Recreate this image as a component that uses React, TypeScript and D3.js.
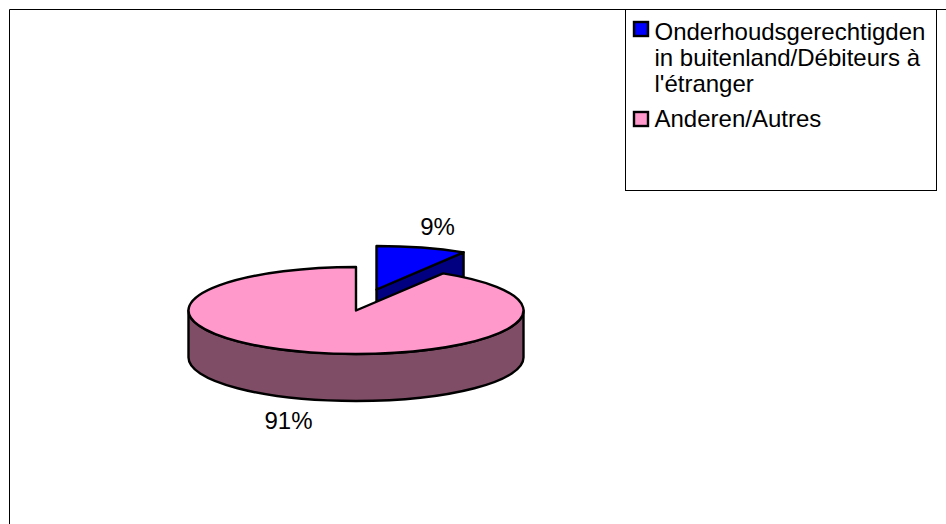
import React from "react";
import * as d3 from "d3";

const categories = ["Onderhoudsgerechtigden in buitenland/Débiteurs à l'étranger", "Anderen/Autres"];
const legendLines = [["Onderhoudsgerechtigden", "in buitenland/Débiteurs à", "l'étranger"], ["Anderen/Autres"]];
const values = [8.7, 91.3];
const topColors = ["#0000ff", "#ff99cc"];
const sideColors = ["#000080", "#804d66"];

const W = 946, H = 524;
const FONT = "'Liberation Sans', Arial, sans-serif";
const cx = 356, cy = 310.5, rx = 167.5, ry = 43.5, depth = 47;
const explode = { dx: 20.5, dy: -21 };

const pie = d3.pie<number>().sort(null);
const arcs = pie(values);
const total = d3.sum(values);
const pct = (v: number) => d3.format(".0f")((v / total) * 100) + "%";
const px = d3.scaleLinear().domain([-1, 1]).range([cx - rx, cx + rx]);
const py = d3.scaleLinear().domain([-1, 1]).range([cy - ry, cy + ry]);
const pt = (a: number) => [px(Math.sin(a)), py(-Math.cos(a))] as const;

function topPath(a0: number, a1: number) {
  const [x0, y0] = pt(a0);
  const [x1, y1] = pt(a1);
  const large = a1 - a0 > Math.PI ? 1 : 0;
  return `M${cx},${cy}L${x0},${y0}A${rx},${ry} 0 ${large} 1 ${x1},${y1}Z`;
}
// Visible rim: the front half of the ellipse, from the right to the left extreme
function frontPath() {
  return `M${cx + rx},${cy}A${rx},${ry} 0 0 1 ${cx - rx},${cy}L${cx - rx},${cy + depth}A${rx},${ry} 0 0 0 ${cx + rx},${cy + depth}Z`;
}
function cutPath(a: number) {
  const [x, y] = pt(a);
  return `M${cx},${cy}L${x},${y}L${x},${y + depth}L${cx},${cy + depth}Z`;
}

export default function App() {
  const blue = arcs[0];
  const pink = arcs[1];
  return (
    <svg width={W} height={H} style={{ position: "absolute", left: 0, top: 0, background: "#fff" }}>
      <path d={`M9.5,${H}V9.5H${W}`} fill="none" stroke="#000" strokeWidth={1} />
      <g transform={`translate(${explode.dx},${explode.dy})`} stroke="#000" strokeWidth={2.4} strokeLinejoin="round">
        <path d={cutPath(blue.endAngle)} fill={sideColors[0]} />
        <path d={topPath(blue.startAngle, blue.endAngle)} fill={topColors[0]} />
      </g>
      <g stroke="#000" strokeWidth={2.4} strokeLinejoin="round">
        <path d={frontPath()} fill={sideColors[1]} />
        <path d={topPath(pink.startAngle, pink.endAngle)} fill={topColors[1]} />
      </g>
      <g fontFamily={FONT} fontSize={24} fill="#000" textAnchor="middle">
        <text x={437.5} y={235}>{pct(values[0])}</text>
        <text x={288.5} y={429}>{pct(values[1])}</text>
      </g>
      <rect x={625.5} y={9.5} width={311} height={181} fill="#fff" stroke="#000" strokeWidth={1} />
      <g fontFamily={FONT} fontSize={24} fill="#000">
        <rect x={634} y={22} width={14} height={14} fill={topColors[0]} stroke="#000" strokeWidth={2.4} />
        {legendLines[0].map((t, i) => (
          <text key={t} x={654.5} y={40 + i * 26}>{t}</text>
        ))}
        <rect x={634} y={112} width={14} height={14} fill={topColors[1]} stroke="#000" strokeWidth={2.4} />
        <text x={654.5} y={127}>{legendLines[1][0]}</text>
      </g>
      <title>{categories.join(" / ")}</title>
    </svg>
  );
}
